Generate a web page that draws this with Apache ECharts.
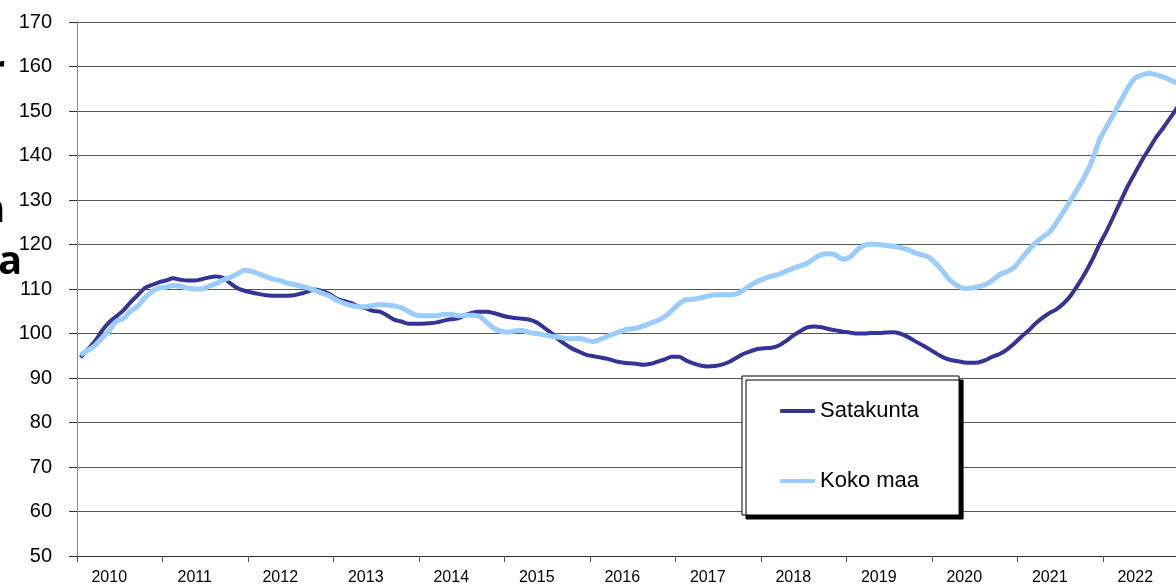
<!DOCTYPE html>
<html>
<head>
<meta charset="utf-8">
<script src="https://cdn.jsdelivr.net/npm/echarts@6/dist/echarts.min.js"></script>
<style>
  html, body { margin: 0; padding: 0; background: #fff; }
  #chart { width: 1176px; height: 588px; }
</style>
</head>
<body>
<div id="chart"></div>
<script>
// vuosikategoriat (x-akselin otsikot)
const years = ['2010', '2011', '2012', '2013', '2014', '2015', '2016',
  '2017', '2018', '2019', '2020', '2021', '2022'];

// kuukausiarvot tammikuusta 2010 alkaen
const satakunta = [
  94.6, 96.4, 98.2, 100.6, 102.5, 103.8, 105.2, 107.0, 108.6, 110.2, 110.9, 111.5,
  111.9, 112.4, 112.1, 111.9, 111.9, 112.2, 112.6, 112.8, 112.5, 111.3, 110.2, 109.6,
  109.2, 108.9, 108.6, 108.5, 108.5, 108.5, 108.6, 109.0, 109.5, 109.9, 109.5, 108.8,
  107.8, 107.3, 106.8, 106.1, 105.7, 105.1, 104.9, 104.1, 103.1, 102.7, 102.2, 102.2,
  102.2, 102.3, 102.5, 102.9, 103.2, 103.4, 104.1, 104.7, 104.9, 104.9, 104.6, 104.1,
  103.7, 103.5, 103.3, 103.1, 102.5, 101.4, 100.2, 98.8, 97.6, 96.6, 95.9, 95.2,
  94.9, 94.6, 94.3, 93.8, 93.5, 93.3, 93.2, 93.0, 93.2, 93.7, 94.2, 94.8,
  94.8, 93.9, 93.3, 92.8, 92.6, 92.7, 93.0, 93.6, 94.5, 95.4, 96.0, 96.5,
  96.7, 96.8, 97.3, 98.3, 99.5, 100.5, 101.4, 101.6, 101.4, 101.0, 100.7, 100.4,
  100.2, 100.0, 100.0, 100.1, 100.1, 100.2, 100.3, 100.0, 99.3, 98.4, 97.5, 96.6,
  95.6, 94.7, 94.1, 93.8, 93.5, 93.4, 93.5, 94.0, 94.8, 95.4, 96.4, 97.7,
  99.2, 100.6, 102.2, 103.5, 104.6, 105.5, 106.8, 108.6, 111.0, 113.6, 116.6, 120.0,
  123.0, 126.4, 129.8, 133.2, 136.1, 139.0, 141.6, 144.2, 146.3, 148.6, 151.0
];

const kokoMaa = [
  95.2, 96.2, 97.3, 99.0, 100.6, 102.7, 103.4, 105.0, 106.1, 108.0, 109.4, 110.2,
  110.4, 110.8, 110.6, 110.2, 110.0, 110.0, 110.6, 111.2, 112.0, 112.6, 113.4, 114.2,
  114.0, 113.4, 112.8, 112.2, 111.9, 111.3, 111.0, 110.6, 110.2, 109.6, 109.0, 108.4,
  107.4, 106.8, 106.3, 106.0, 106.0, 106.3, 106.5, 106.4, 106.2, 105.8, 105.0, 104.2,
  104.0, 104.0, 104.0, 104.3, 104.3, 104.0, 104.1, 104.1, 103.8, 102.5, 101.2, 100.5,
  100.3, 100.6, 100.7, 100.2, 100.0, 99.7, 99.4, 99.2, 98.9, 98.8, 98.9, 98.5,
  98.2, 98.7, 99.4, 100.0, 100.6, 101.0, 101.2, 101.7, 102.3, 102.9, 103.8, 105.2,
  106.7, 107.6, 107.7, 108.0, 108.4, 108.7, 108.7, 108.7, 108.9, 109.7, 110.8, 111.7,
  112.4, 112.9, 113.3, 114.0, 114.6, 115.2, 115.8, 116.9, 117.7, 117.9, 117.6, 116.7,
  117.2, 118.8, 119.8, 120.1, 120.0, 119.8, 119.6, 119.3, 118.9, 118.2, 117.7, 117.2,
  115.8, 114.0, 112.0, 110.8, 110.1, 110.2, 110.5, 111.0, 112.0, 113.2, 113.9, 114.8,
  116.7, 118.6, 120.3, 121.6, 122.8, 125.0, 127.5, 130.0, 132.7, 135.5, 139.0, 143.5,
  146.5, 149.3, 152.3, 155.2, 157.4, 158.1, 158.5, 158.1, 157.6, 156.9, 156.2
];

const FONT = '"Liberation Sans", Arial, sans-serif';

// kuukausi keskelle omaa väliään
const toPoints = (arr) => arr.map((v, i) => [i + 0.5, v]);

const chart = echarts.init(document.getElementById('chart'));

const option = {
  animation: false,
  grid: {
    left: 77,
    top: 22,
    width: 1111.5,
    height: 534,
    outerBoundsMode: 'none'
  },
  legend: {
    orient: 'vertical',
    left: 742,
    top: 376,
    padding: [24, 40, 23, 38],
    itemGap: 48,
    itemWidth: 35,
    itemHeight: 4,
    icon: 'roundRect',
    backgroundColor: '#fff',
    borderColor: '#000',
    borderWidth: 1,
    shadowColor: '#000',
    shadowBlur: 0,
    shadowOffsetX: 4,
    shadowOffsetY: 4,
    textStyle: {
      fontFamily: FONT,
      fontSize: 22,
      color: '#000',
      lineHeight: 22
    },
    data: ['Satakunta', 'Koko maa']
  },
  xAxis: [
    {
      type: 'category',
      data: years,
      boundaryGap: true,
      axisLine: { lineStyle: { color: '#333', width: 1 } },
      axisTick: { show: true, length: 6, lineStyle: { color: '#555' } },
      axisLabel: {
        fontFamily: FONT,
        fontSize: 16,
        color: '#000',
        margin: 14,
        padding: [0, 21, 0, 0]
      },
      splitLine: { show: false }
    },
    {
      type: 'value',
      min: 0,
      max: years.length * 12,
      position: 'bottom',
      show: false
    }
  ],
  yAxis: {
    type: 'value',
    min: 50,
    max: 170,
    interval: 10,
    axisLine: { show: true, lineStyle: { color: '#888' } },
    axisTick: { show: true, length: 8, lineStyle: { color: '#333' } },
    axisLabel: {
      fontFamily: FONT,
      fontSize: 20,
      color: '#000',
      margin: 25
    },
    splitLine: { lineStyle: { color: '#555', width: 1 } }
  },
  series: [
    {
      name: 'Satakunta',
      type: 'line',
      xAxisIndex: 1,
      data: toPoints(satakunta),
      smooth: 0.3,
      showSymbol: false,
      color: '#333399',
      lineStyle: { width: 4, color: '#333399' }
    },
    {
      name: 'Koko maa',
      type: 'line',
      xAxisIndex: 1,
      data: toPoints(kokoMaa),
      smooth: 0.3,
      showSymbol: false,
      color: '#99ccff',
      lineStyle: { width: 5, color: '#99ccff' }
    }
  ],
  // reunasta leikkautuvan otsikon jäänteet
  graphic: [
    {
      type: 'text', left: -13, top: 52,
      style: { text: 'r', font: 'bold 40px "Open Sans", sans-serif', fill: '#000' }
    },
    {
      type: 'text', left: -21, top: 191,
      style: { text: 'n', font: 'bold 40px "Open Sans", sans-serif', fill: '#000' }
    },
    {
      type: 'text', left: -2, top: 243,
      style: { text: 'a', font: 'bold 40px "Open Sans", sans-serif', fill: '#000' }
    }
  ]
};

chart.setOption(option);
</script>
</body>
</html>
